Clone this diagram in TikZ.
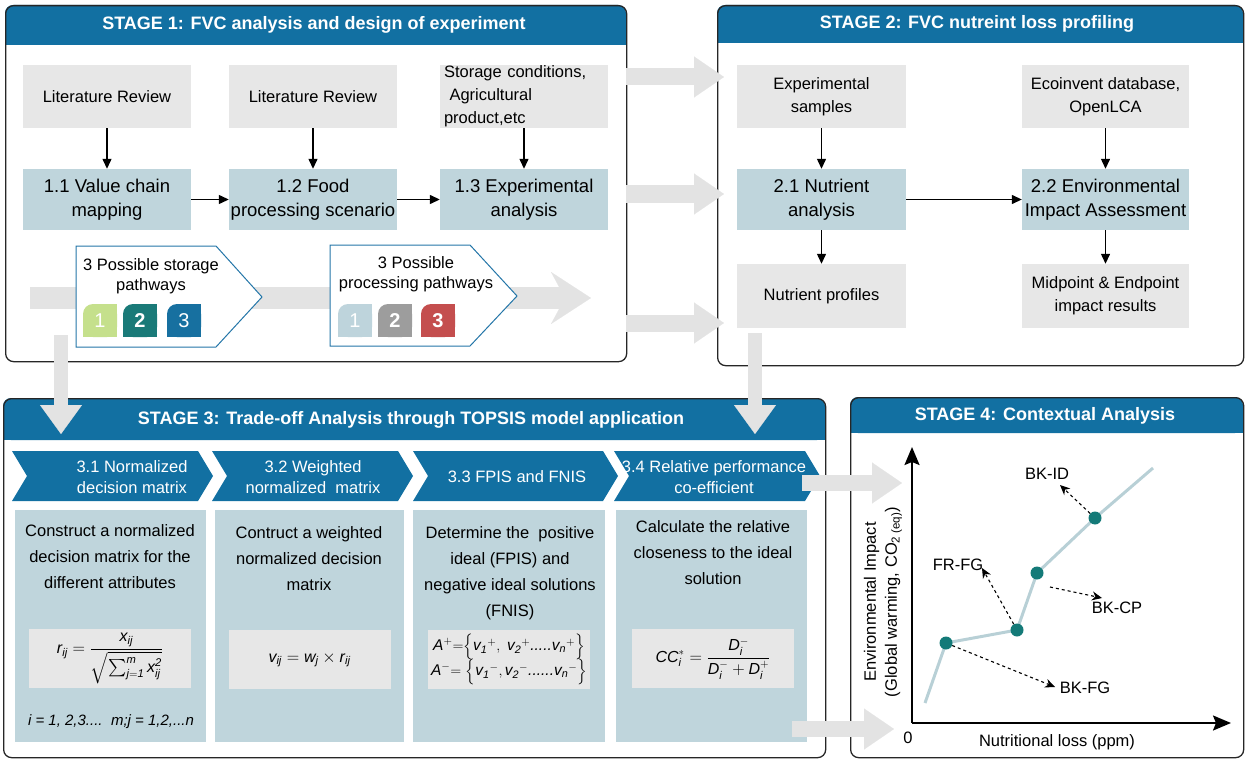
\documentclass[tikz,border=0pt]{standalone}
\usepackage{amsmath}
\usepackage{fontspec}
\setmainfont{Liberation Sans}
\usetikzlibrary{arrows.meta}
\definecolor{hdr}{RGB}{18,112,162}
\definecolor{boxgray}{RGB}{231,231,231}
\definecolor{lblue}{RGB}{191,213,220}
\definecolor{agray}{RGB}{227,227,227}
\definecolor{tealc}{RGB}{20,122,120}
\definecolor{gline}{RGB}{184,208,214}
\definecolor{pblue}{RGB}{36,118,168}
\definecolor{sqa}{RGB}{197,224,140}
\definecolor{sqb}{RGB}{26,122,120}
\definecolor{sqc}{RGB}{23,112,160}
\definecolor{sqd}{RGB}{190,212,220}
\definecolor{sqe}{RGB}{157,157,157}
\definecolor{sqf}{RGB}{196,78,78}
\newcommand{\fs}[2]{\fontsize{#1}{#2}\selectfont}
\newcommand{\itx}[1]{\textit{#1}}
\begin{document}
\begin{tikzpicture}[x=1pt,y=-1pt,
  frame/.style={draw=black!85, line width=1.3pt, rounded corners=8pt, anchor=north west, inner sep=0pt},
  title/.style={text=white, font=\fs{18}{22}\bfseries},
  graybox/.style={fill=boxgray, minimum width=168pt, minimum height=63pt, align=center, font=\fs{16.5}{23}, inner sep=1pt},
  stepbox/.style={fill=lblue, minimum width=168pt, minimum height=61pt, align=center, font=\fs{18.5}{24}, inner sep=1pt},
  panel/.style={fill=lblue, anchor=north west, inner sep=0pt},
  ptext/.style={align=center, font=\fs{16.5}{26}, anchor=north, inner sep=0pt},
  fbox/.style={fill=boxgray, minimum width=162pt, minimum height=59pt, inner sep=0pt, align=center, font=\fs{16}{22}},
  chev/.style={fill=hdr},
  ctext/.style={text=white, align=center, font=\fs{16.5}{21}},
  arr/.style={-{Triangle[length=10pt,width=9pt]}, line width=1.3pt},
  bigarrow/.style={draw=agray, line width=17pt, -{Triangle[length=30pt,width=41pt,line width=0.1pt]}},
  vbigarrow/.style={draw=agray, line width=14pt, -{Triangle[length=29pt,width=42pt,line width=0.1pt]}},
  pathband/.style={draw=agray, line width=22pt, -{Stealth[length=40pt,width=52pt,inset=14pt,line width=0.1pt]}},
  pent/.style={draw=pblue, line width=1pt, fill=white},
  sqtext/.style={text=white, font=\fs{20}{24}},
  dot/.style={circle, fill=tealc, minimum size=13pt, inner sep=0pt},
  darr/.style={dashed, line width=1.1pt, -{Stealth[length=10pt,width=9pt]}},
  lab/.style={font=\fs{16.5}{20}}
]
\useasboundingbox (0,0) rectangle (1249,762);

% ================= STAGE 1 =================
\fill[hdr, rounded corners=8pt] (5,5) rectangle (626,45);
\fill[hdr] (5,25) rectangle (626,45);
\node[frame, minimum width=621pt, minimum height=356pt] (s1) at (5,5) {};
\node[title] (t1) at (314,25) {STAGE 1: FVC analysis and design of experiment};

\node[graybox] (lr1) at (107,96.5) {Literature Review};
\node[graybox] (lr2) at (313,96.5) {Literature Review};
\node[graybox, align=left, text width=160pt] (sc) at (524,96.5) {Storage conditions,\\ \ Agricultural\\product,etc};
\node[stepbox] (vc) at (107,199.5) {1.1 Value chain\\mapping};
\node[stepbox] (fp) at (313,199.5) {1.2 Food\\processing scenario};
\node[stepbox] (ea) at (524,199.5) {1.3 Experimental\\analysis};
\draw[arr] (lr1) -- (vc);
\draw[arr] (lr2) -- (fp);
\draw[arr] (sc) -- (ea);
\draw[arr] (vc) -- (fp);
\draw[arr] (fp) -- (ea);

% pathway band
\coordinate (pa) at (30,298);
\coordinate (pb) at (591,298);
\draw[pathband] (pa) -- (pb);

% pentagon 1
\draw[pent] (76,246) -- (216,246) -- (262,297) -- (216,347) -- (76,347) -- cycle;
\node[lab, align=center] (pw1) at (151,276) {3 Possible storage\\pathways};
% pentagon 2
\draw[pent] (330,245) -- (470,245) -- (517,296) -- (470,346) -- (330,346) -- cycle;
\node[lab, align=center] (pw2) at (416,274) {3 Possible\\processing pathways};

% number tabs
\foreach \x/\c/\t/\n in {83/sqa/1/ta, 123/sqb/\textbf{2}/tb, 167/sqc/3/tc, 338/sqd/1/td, 378/sqe/\textbf{2}/te, 421/sqf/\textbf{3}/tf}{
  \fill[\c, rounded corners=10pt] (\x,304) rectangle (\x+34,337);
  \fill[\c] (\x+12,304) rectangle (\x+34,337);
  \fill[\c] (\x,316) rectangle (\x+34,337);
  \node[sqtext] (\n) at (\x+17,321) {\t};
}

% ================= STAGE 2 =================
\fill[hdr, rounded corners=8pt] (717,5) rectangle (1243,43);
\fill[hdr] (717,25) rectangle (1243,43);
\node[frame, minimum width=526pt, minimum height=360pt] (s2) at (717,5) {};
\node[title] (t2) at (977,24) {STAGE 2: FVC nutreint loss profiling};

\node[graybox, minimum width=169pt] (exs) at (821.5,96.5) {Experimental\\samples};
\node[graybox, minimum width=167pt] (eco) at (1105.5,96.5) {Ecoinvent database,\\OpenLCA};
\node[stepbox, minimum width=169pt] (na) at (821.5,199.5) {2.1 Nutrient\\analysis};
\node[stepbox, minimum width=167pt] (eia) at (1105.5,199.5) {2.2 Environmental\\Impact Assessment};
\node[graybox, minimum width=169pt, minimum height=64pt] (np) at (821.5,296) {Nutrient profiles};
\node[graybox, minimum width=167pt, minimum height=64pt] (mer) at (1105.5,296) {Midpoint \& Endpoint\\impact results};
\draw[arr] (exs) -- (na);
\draw[arr] (na) -- (np);
\draw[arr] (eco) -- (eia);
\draw[arr] (eia) -- (mer);
\draw[arr] (na) -- (eia);

% ================= STAGE 3 =================
\fill[hdr, rounded corners=8pt] (3,398) rectangle (825,440);
\fill[hdr] (3,420) rectangle (825,440);
\node[frame, minimum width=822pt, minimum height=359pt] (s3) at (3,398) {};
\node[title] (t3) at (411,420) {STAGE 3: Trade-off Analysis through TOPSIS model application};

% chevrons (4 first so that 3 overlaps its text)
\fill[chev] (614,451) -- (805,451) -- (820,476) -- (805,501) -- (614,501) -- (629,476) -- cycle;
\node[ctext] (c4) at (714,477) {3.4 Relative performance\\co-efficient};
\fill[chev] (12,451) -- (198,451) -- (213,476) -- (198,501) -- (12,501) -- (27,476) -- cycle;
\fill[chev] (212,451) -- (398,451) -- (413,476) -- (398,501) -- (212,501) -- (227,476) -- cycle;
\fill[chev] (413,451) -- (603,451) -- (618,476) -- (603,501) -- (413,501) -- (428,476) -- cycle;
\node[ctext] (c1) at (132,477) {3.1 Normalized\\decision matrix};
\node[ctext] (c2) at (313,477) {3.2 Weighted\\normalized\ \ matrix};
\node[ctext] (c3) at (517,477) {3.3 FPIS and FNIS};

% panels
\node[panel, minimum width=191pt, minimum height=232pt] (p1) at (15,510) {};
\node[panel, minimum width=189pt, minimum height=232pt] (p2) at (215,510) {};
\node[panel, minimum width=192pt, minimum height=232pt] (p3) at (413,510) {};
\node[panel, minimum width=191pt, minimum height=232pt] (p4) at (616,510) {};

\node[ptext] (pt1) at (110,524) {Construct a normalized\\decision matrix for the\\different attributes};
\node[ptext] (pt2) at (309,526) {Contruct a weighted\\normalized decision\\matrix};
\node[ptext] (pt3) at (510,526) {Determine the\ \ positive\\ideal (FPIS) and\\negative ideal solutions\\(FNIS)};
\node[ptext] (pt4) at (713,520) {Calculate the relative\\closeness to the ideal\\solution};

\node[fbox] (f1) at (110,658.5) {$\itx{r}_{\itx{ij}} = \dfrac{\itx{x}_{\itx{ij}}}{\sqrt{\sum\nolimits_{\itx{j}=\itx{1}}^{\itx{m}} \itx{x}_{\itx{ij}}^{\itx{2}}}}$};
\node[fbox] (f2) at (309.5,659.5) {$\itx{v}_{\itx{ij}} = \itx{w}_{\itx{j}} \times \itx{r}_{\itx{ij}}$};
\node[fbox, font=\fs{15.5}{24}] (f3) at (509,659.5) {$\itx{A}^{+}{=}\Big\{\itx{v}_{\itx{1}}{}^{+},\ \itx{v}_{\itx{2}}{}^{+}\itx{.....}\itx{v}_{\itx{n}}{}^{+}\Big\}$\\[-2pt]$\itx{A}^{-}{=}\ \Big\{\itx{v}_{\itx{1}}{}^{-},\itx{v}_{\itx{2}}{}^{-}\itx{......}\itx{v}_{\itx{n}}{}^{-}\Big\}$};
\node[fbox] (f4) at (713,658.5) {$\itx{CC}_{\itx{i}}^{*} = \dfrac{\itx{D}_{\itx{i}}^{-}}{\itx{D}_{\itx{i}}^{-} + \itx{D}_{\itx{i}}^{+}}$};
\node[font=\fs{15}{18}\itshape] (idx) at (111,722) {i = 1, 2,3....\ \ m;j = 1,2,...n};

% ================= STAGE 4 =================
\fill[hdr, rounded corners=8pt] (850,397) rectangle (1243,433);
\fill[hdr] (850,415) rectangle (1243,433);
\node[frame, minimum width=393pt, minimum height=360pt] (s4) at (850,397) {};
\node[title] (t4) at (1045,416) {STAGE 4: Contextual Analysis};

\coordinate (org) at (912,723);
\coordinate (ytip) at (912,447);
\coordinate (xtip) at (1231,723);
\draw[line width=2pt, -{Stealth[length=18pt,width=15pt,inset=3pt]}] (org) -- (ytip);
\draw[line width=2pt, -{Stealth[length=18pt,width=15pt,inset=3pt]}] (org) -- (xtip);
\node[lab] (zero) at (908,738) {0};
\node[lab] (xl) at (1057,742) {Nutritional loss (ppm)};
\node[lab, rotate=90, align=center, font=\fs{16.5}{21}] (yl) at (883,602) {Environmental Impact\\(Global warming, CO\textsubscript{2}\,\textsubscript{(eq)})};

\coordinate (q0) at (925,703);
\coordinate (q1) at (946,643);
\coordinate (q2) at (1017,630);
\coordinate (q3) at (1037,573);
\coordinate (q4) at (1095,518);
\coordinate (q5) at (1153,468);
\draw[gline, line width=3pt] (q0) -- (q1) -- (q2) -- (q3) -- (q4) -- (q5);
\node[dot] (d1) at (q1) {};
\node[dot] (d2) at (q2) {};
\node[dot] (d3) at (q3) {};
\node[dot] (d4) at (q4) {};

\node[lab] (bkid) at (1047,474) {BK-ID};
\node[lab] (frfg) at (958,565) {FR-FG};
\node[lab] (bkcp) at (1117,608) {BK-CP};
\node[lab] (bkfg) at (1085,688) {BK-FG};
\coordinate (e4) at (1060,485);
\coordinate (e2) at (982,568);
\coordinate (e3) at (1102,598);
\coordinate (e1) at (1055,687);
\coordinate (s3d) at (1050,587);
\draw[darr] (d4) -- (e4);
\draw[darr] (d2) -- (e2);
\draw[darr] (s3d) -- (e3);
\draw[darr] (d1) -- (e1);

% ================= BIG GRAY ARROWS =================
\coordinate (g1a) at (626,77);   \coordinate (g1b) at (724,77);
\coordinate (g2a) at (626,194);  \coordinate (g2b) at (724,194);
\coordinate (g3a) at (626,323);  \coordinate (g3b) at (724,323);
\draw[bigarrow] (g1a) -- (g1b);
\draw[bigarrow] (g2a) -- (g2b);
\draw[bigarrow] (g3a) -- (g3b);
\coordinate (v1a) at (61,335);   \coordinate (v1b) at (61,434);
\coordinate (v2a) at (755,333);  \coordinate (v2b) at (755,434);
\draw[vbigarrow] (v1a) -- (v1b);
\draw[vbigarrow] (v2a) -- (v2b);
\coordinate (h1a) at (802,483);  \coordinate (h1b) at (902,483);
\coordinate (h2a) at (792,729);  \coordinate (h2b) at (894,729);
\draw[bigarrow, line width=16pt] (h1a) -- (h1b);
\draw[bigarrow, line width=16pt] (h2a) -- (h2b);
\end{tikzpicture}
\end{document}
